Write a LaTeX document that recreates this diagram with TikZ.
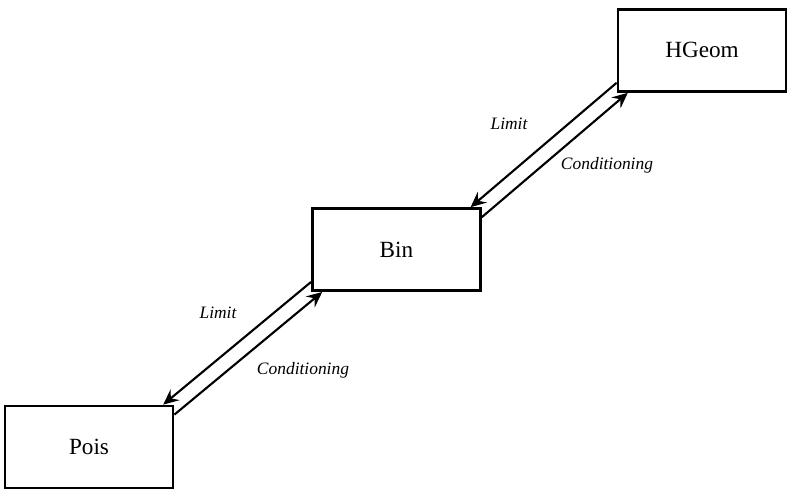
\documentclass[tikz,border=0pt]{standalone}
\usepackage{fontspec}
\setmainfont{Liberation Serif}
\usetikzlibrary{arrows.meta}

\begin{document}
\begin{tikzpicture}[
	dist/.style={draw, line width=2pt, minimum width=4.2cm, minimum height=2.05cm, font=\fontsize{16.5}{19}\selectfont},
	lbl/.style={font=\fontsize{12.4}{14}\selectfont\itshape},
	>={Stealth[length=11pt,width=10pt,inset=4pt]}
	]
			\useasboundingbox (0,0) rectangle (19.85,-12.4);
			\node (pois) [dist] at (2.225,-11.175) {Pois};
			\node (bin) [dist] at (9.91,-6.24) {Bin};
			\node (hgeom) [dist] at (17.55,-1.26) {HGeom};
			
			\node (lim1) [lbl] at (5.45,-7.825) {Limit};
			\node (cond1) [lbl] at (7.575,-9.25) {Conditioning};
			\node (lim2) [lbl] at (12.725,-3.1) {Limit};
			\node (cond2) [lbl] at (15.175,-4.125) {Conditioning};
			
			\path ([yshift=0.25cm]bin.south west) edge [ ->, line width=1.5pt ] ([xshift=-0.28cm]pois.north east);
			\path ([yshift=-0.25cm]pois.north east) edge [ ->, line width=1.5pt ] ([xshift=0.28cm]bin.south west);
			\path ([yshift=0.25cm]hgeom.south west) edge [ ->, line width=1.5pt ] ([xshift=-0.28cm]bin.north east);
			\path ([yshift=-0.25cm]bin.north east) edge [ ->, line width=1.5pt ] ([xshift=0.28cm]hgeom.south west);
			\end{tikzpicture}
\end{document}
